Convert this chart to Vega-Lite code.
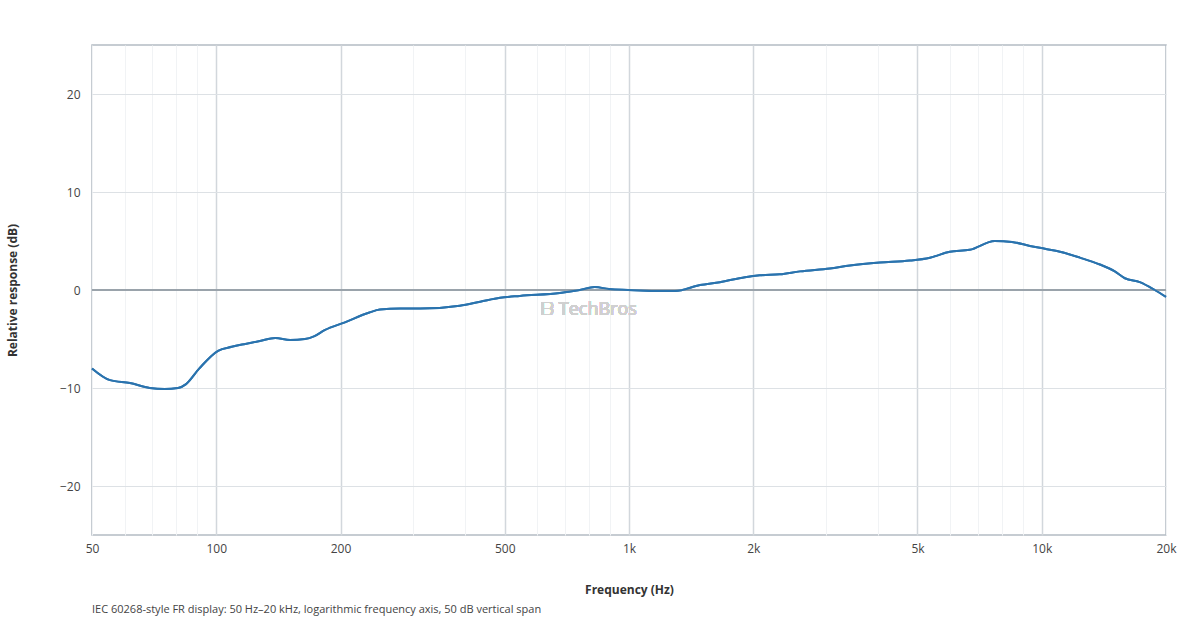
{
  "$schema": "https://vega.github.io/schema/vega-lite/v6.json",
  "width": 1074,
  "height": 490,
  "autosize": "none",
  "padding": {"left": 92, "top": 45, "right": 34, "bottom": 85},
  "background": "white",
  "config": {
    "font": "Open Sans",
    "view": {"stroke": "#b4bcc4", "strokeWidth": 1.5}
  },
  "title": {
    "text": "IEC 60268-style FR display: 50 Hz–20 kHz, logarithmic frequency axis, 50 dB vertical span",
    "orient": "bottom",
    "anchor": "start",
    "frame": "group",
    "fontSize": 11,
    "fontWeight": "normal",
    "color": "#444",
    "offset": 9
  },
  "data": {
    "values": [
      {"f": 50, "db": -8.0}, {"f": 55.3, "db": -9.2}, {"f": 61.8, "db": -9.5}, {"f": 69, "db": -10.0},
      {"f": 75, "db": -10.1}, {"f": 80.8, "db": -10.0}, {"f": 84.5, "db": -9.6}, {"f": 91, "db": -8.0},
      {"f": 101, "db": -6.2}, {"f": 109, "db": -5.8}, {"f": 117.6, "db": -5.5}, {"f": 127.6, "db": -5.2},
      {"f": 139, "db": -4.9}, {"f": 151, "db": -5.1}, {"f": 164, "db": -5.0}, {"f": 173, "db": -4.7},
      {"f": 183, "db": -4.1}, {"f": 205, "db": -3.3}, {"f": 235, "db": -2.3}, {"f": 249, "db": -2.0},
      {"f": 279, "db": -1.9}, {"f": 312, "db": -1.9}, {"f": 389, "db": -1.6}, {"f": 436, "db": -1.2},
      {"f": 487, "db": -0.8}, {"f": 544, "db": -0.6}, {"f": 680, "db": -0.3}, {"f": 760, "db": 0.0},
      {"f": 826, "db": 0.3}, {"f": 894, "db": 0.1}, {"f": 995, "db": 0.0}, {"f": 1156, "db": -0.1},
      {"f": 1292, "db": -0.1}, {"f": 1486, "db": 0.5}, {"f": 1660, "db": 0.8}, {"f": 1910, "db": 1.3},
      {"f": 2075, "db": 1.5}, {"f": 2320, "db": 1.6}, {"f": 2595, "db": 1.9}, {"f": 3066, "db": 2.2},
      {"f": 3430, "db": 2.5}, {"f": 4050, "db": 2.8}, {"f": 4795, "db": 3.0}, {"f": 5360, "db": 3.3},
      {"f": 5985, "db": 3.9}, {"f": 6690, "db": 4.1}, {"f": 7695, "db": 5.0}, {"f": 8470, "db": 4.9},
      {"f": 9360, "db": 4.5}, {"f": 10180, "db": 4.2}, {"f": 11070, "db": 3.9}, {"f": 12370, "db": 3.3},
      {"f": 13830, "db": 2.6}, {"f": 15030, "db": 1.9}, {"f": 15900, "db": 1.2}, {"f": 17280, "db": 0.8},
      {"f": 18790, "db": 0.0}, {"f": 20000, "db": -0.7}
    ]
  },
  "layer": [
    {
      "mark": {"type": "line", "color": "#2a73ae", "strokeWidth": 2, "interpolate": "monotone"},
      "encoding": {
        "x": {
          "field": "f", "type": "quantitative",
          "scale": {"type": "log", "domain": [50, 20000], "nice": false},
          "axis": {
            "grid": true,
            "title": "Frequency (Hz)", "titleFontSize": 12, "titleFontWeight": "bold", "titleColor": "#333", "titlePadding": 30,
            "values": [50, 60, 70, 80, 90, 100, 200, 300, 400, 500, 600, 700, 800, 900, 1000, 2000, 3000, 4000, 5000, 6000, 7000, 8000, 9000, 10000, 20000],
            "labelExpr": "indexof([50,100,200,500,1000,2000,5000,10000,20000], datum.value) >= 0 ? (datum.value >= 1000 ? (datum.value/1000) + 'k' : datum.value + '') : ''",
            "labelFontSize": 12, "labelColor": "#444", "labelPadding": 8, "labelFlush": false,
            "ticks": false, "domain": false,
            "gridColor": {"condition": {"test": "indexof([100,200,500,1000,2000,5000,10000], datum.value) >= 0", "value": "#d2d7dc"}, "value": "#f1f3f5"},
            "gridWidth": {"condition": {"test": "indexof([100,200,500,1000,2000,5000,10000], datum.value) >= 0", "value": 1.5}, "value": 1}
          }
        },
        "y": {
          "field": "db", "type": "quantitative",
          "scale": {"domain": [-25, 25], "nice": false},
          "axis": {
            "grid": true,
            "title": "Relative response (dB)", "titleFontSize": 12, "titleFontWeight": "bold", "titleColor": "#333", "titlePadding": 40,
            "values": [-20, -10, 0, 10, 20],
            "labelFontSize": 12, "labelColor": "#444", "labelPadding": 12,
            "ticks": false, "domain": false, "gridColor": "#dde1e5"
          }
        }
      }
    },
    {
      "mark": {"type": "rule", "color": "#9aa3ab", "strokeWidth": 1.5},
      "encoding": {"y": {"datum": 0}}
    },
    {
      "mark": {"type": "text", "text": "ᗷ TechBros", "fontSize": 18, "fontWeight": "normal", "color": "#d0d0d0"},
      "encoding": {"x": {"datum": 800}, "y": {"datum": -2}}
    },
    {
      "mark": {"type": "line", "color": "#2a73ae", "strokeWidth": 2, "interpolate": "monotone"},
      "encoding": {
        "x": {"field": "f", "type": "quantitative"},
        "y": {"field": "db", "type": "quantitative"}
      }
    }
  ]
}
